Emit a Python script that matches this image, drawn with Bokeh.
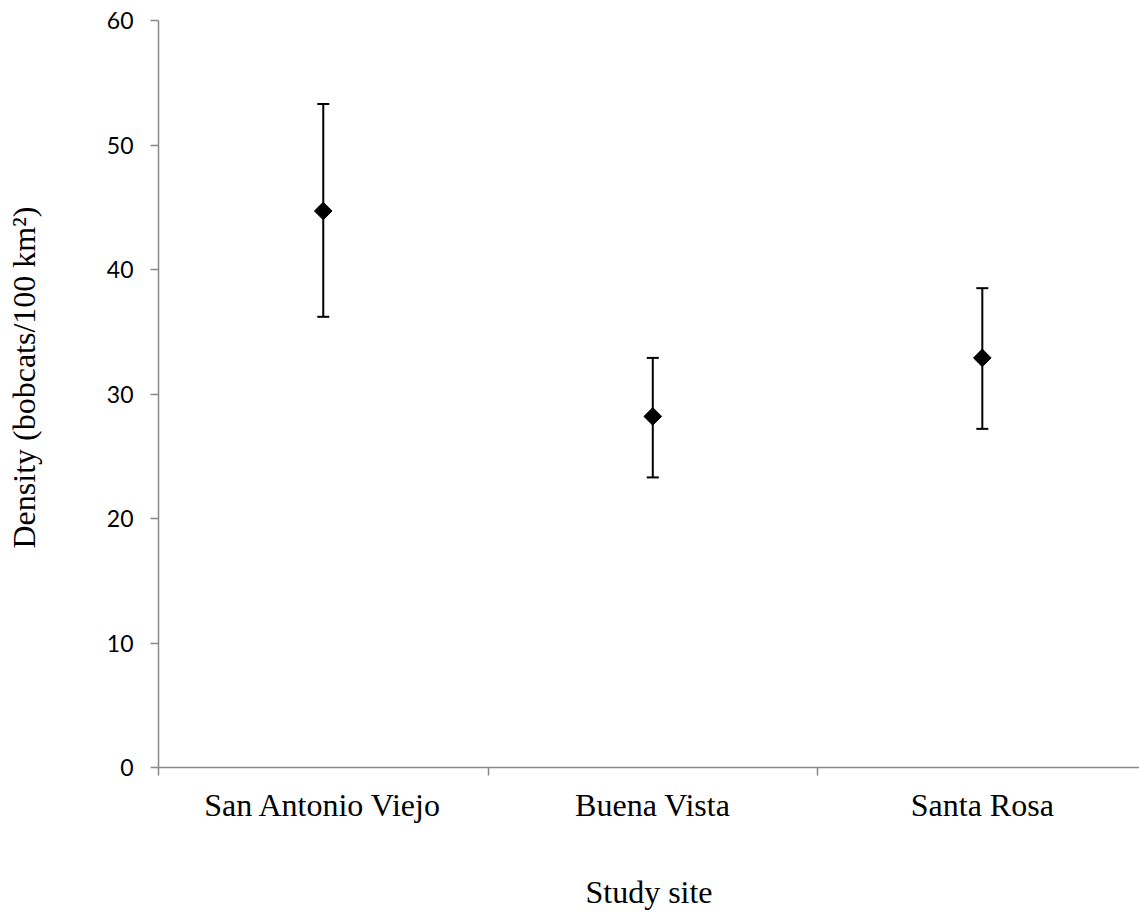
from bokeh.plotting import figure
from bokeh.models import Range1d, FixedTicker, ColumnDataSource, Whisker, Title, LinearAxis
from bokeh.embed import file_html
from bokeh.resources import INLINE
import math

sites = ["San Antonio Viejo", "Buena Vista", "Santa Rosa"]
density = [44.7, 28.2, 32.9]
upper = [53.3, 32.9, 38.5]
lower = [36.2, 23.3, 27.2]
y_ticks = [0, 10, 20, 30, 40, 50, 60]
y_title = "Density (bobcats/100 km\u00b2)"
x_title = "Study site"

xpos = [i + 0.5 for i in range(len(sites))]
src = ColumnDataSource(dict(x=xpos, y=density, upper=upper, lower=lower))

p = figure(width=1139, height=918, output_backend="svg", toolbar_location=None,
           x_range=Range1d(0, 2.977), y_range=Range1d(0, 60),
           min_border_left=158, min_border_top=20, min_border_right=0, min_border_bottom=151)
p.outline_line_color = None
p.grid.visible = False
p.background_fill_color = "white"
p.border_fill_color = "white"

w = Whisker(source=src, base="x", upper="upper", lower="lower", dimension="height",
            line_color="black", line_width=2)
w.upper_head.size = 12
w.lower_head.size = 12
w.upper_head.line_width = 2
w.lower_head.line_width = 2
p.add_layout(w)

p.scatter(x="x", y="y", source=src, marker="square", size=12.5, angle=math.pi / 4,
          fill_color="black", line_color="black")

axis_color = "#898989"
xa = p.xaxis[0]
xa.ticker = FixedTicker(ticks=xpos, minor_ticks=[0, 1, 2, 3])
xa.major_label_overrides = {x: s for x, s in zip(xpos, sites)}
xa.major_tick_out = 0
xa.major_tick_in = 0
xa.minor_tick_out = 8
xa.minor_tick_in = 0
xa.minor_tick_line_color = axis_color
xa.minor_tick_line_width = 1.5
xa.axis_line_color = axis_color
xa.axis_line_width = 1.5
xa.major_label_text_font = "Liberation Serif"
xa.major_label_text_font_size = "32px"
xa.major_label_text_color = "black"
xa.major_label_standoff = 11
xa.axis_label = x_title
xa.axis_label_text_font = "Liberation Serif"
xa.axis_label_text_font_size = "32px"
xa.axis_label_text_font_style = "normal"
xa.axis_label_text_color = "black"
xa.axis_label_standoff = 48

ya = p.yaxis[0]
ya.ticker = FixedTicker(ticks=y_ticks, minor_ticks=[])
ya.major_tick_out = 8
ya.major_tick_in = 0
ya.major_tick_line_color = axis_color
ya.major_tick_line_width = 1.5
ya.axis_line_color = axis_color
ya.axis_line_width = 1.5
ya.major_label_text_font = "Lato"
ya.major_label_text_font_size = "23px"
ya.major_label_text_color = "black"
ya.major_label_standoff = 17

# invisible spacer between the tick labels and the vertical title
spacer = LinearAxis(ticker=FixedTicker(ticks=[30], minor_ticks=[]),
                    major_label_overrides={30: ""},
                    axis_line_color=None, major_tick_line_color=None,
                    minor_tick_line_color=None, major_tick_out=62, major_tick_in=0,
                    minor_tick_out=0, minor_tick_in=0, major_label_standoff=0)
p.add_layout(spacer, "left")

t = Title(text=y_title, align="left", offset=219,
          text_font="Liberation Serif", text_font_size="32px", text_font_style="normal",
          text_color="black", standoff=0)
p.add_layout(t, "left")

open("out.html", "w").write(file_html(p, INLINE))
